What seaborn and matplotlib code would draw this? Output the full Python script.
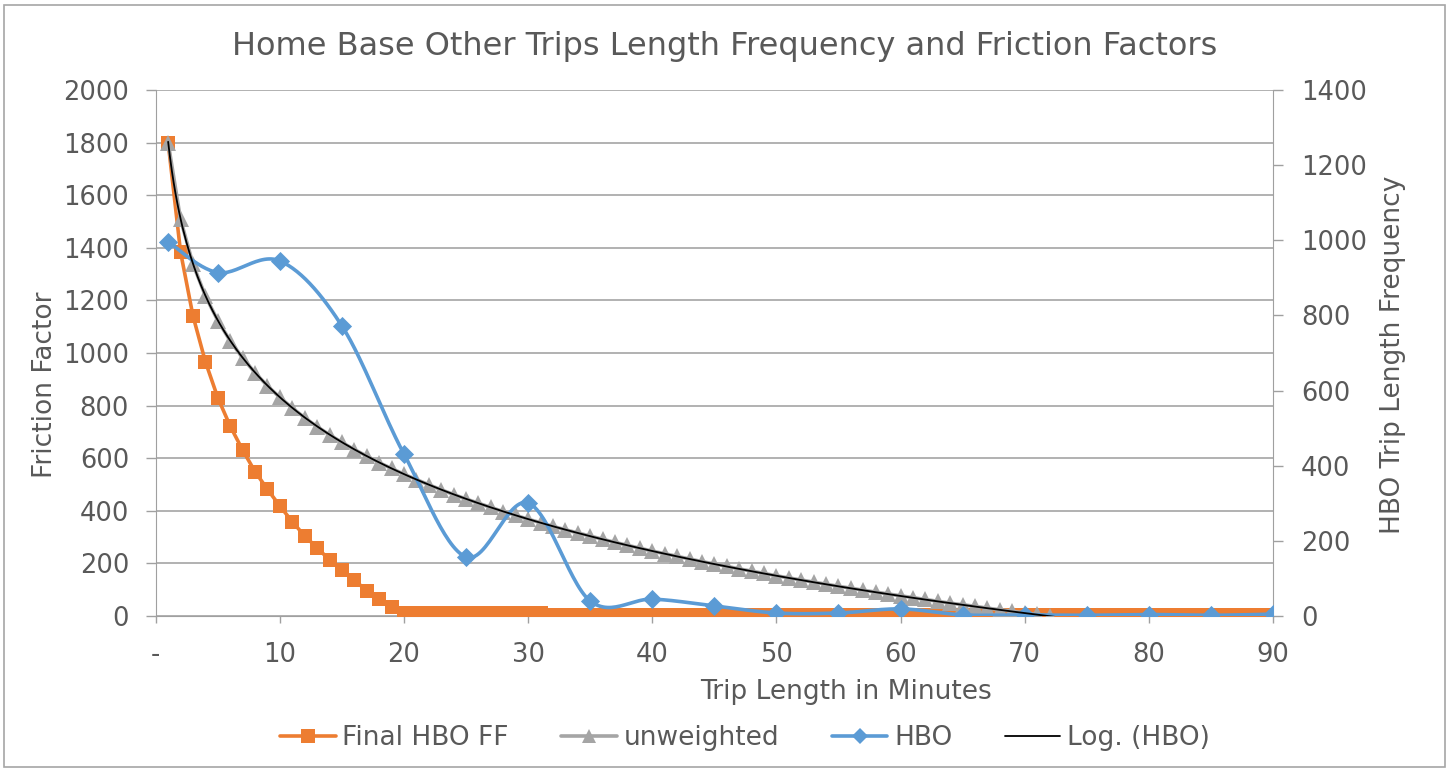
import numpy as np
import matplotlib
matplotlib.use("Agg")
import matplotlib.pyplot as plt
from matplotlib.lines import Line2D
from matplotlib.patches import Rectangle
import seaborn as sns

# ---- data -------------------------------------------------------------
minutes = list(range(1, 91))

# Final HBO friction factors (left axis)
final_hbo_ff = [1800, 1384, 1141, 967, 830, 722, 631, 549, 482, 418,
                359, 304, 260, 213, 175, 137, 96, 63, 35, 12,
                12, 12, 12, 12, 12, 12, 12, 12, 12, 12,
                12, 3, 3, 3, 3, 3, 3, 3, 3, 3,
                3, 3, 3, 3, 3, 3, 3, 3, 3, 3,
                3, 3, 3, 3, 3, 3, 3, 3, 3, 3,
                3, 3, 3, 3, 3, 3, 3, 3, 3, 3,
                3, 3, 3, 3, 3, 3, 3, 3, 3, 3,
                3, 3, 3, 3, 3, 3, 3, 3, 3, 3]

# Unweighted friction factors (left axis), minutes 1..72
unweighted_minutes = list(range(1, 73))
unweighted_ff = [1800, 1508, 1338, 1217, 1123, 1046, 981, 925, 875, 831,
                 791, 754, 720, 689, 660, 633, 608, 583, 561, 539,
                 519, 499, 480, 462, 445, 429, 413, 397, 383, 368,
                 355, 341, 328, 316, 304, 292, 280, 269, 258, 247,
                 237, 227, 217, 207, 198, 189, 179, 171, 162, 153,
                 145, 137, 129, 121, 113, 106, 98, 91, 84, 77,
                 70, 63, 56, 49, 43, 37, 30, 24, 18, 12,
                 6, 0]

# HBO trip length frequency (right axis)
hbo_minutes = [1, 5, 10, 15, 20, 25, 30, 35, 40, 45,
               50, 55, 60, 65, 70, 75, 80, 85, 90]
hbo_freq = [996, 914, 945, 772, 431, 157, 301, 40, 45, 27,
            8, 8, 19, 3, 3, 2, 4, 2, 5]

x_ticks = [0, 10, 20, 30, 40, 50, 60, 70, 80, 90]
x_tick_labels = ["-", "10", "20", "30", "40", "50", "60", "70", "80", "90"]
left_ticks = list(range(0, 2001, 200))
right_ticks = list(range(0, 1401, 200))

# ---- style ------------------------------------------------------------
sns.set_style("white")
plt.rcParams["font.family"] = ["DejaVu Sans"]
TXT = "#595959"
GRID = "#ababab"
AXC = "#a0a0a0"
ORANGE = "#ED7D31"
GRAY = "#A5A5A5"
BLUE = "#5B9BD5"


def smooth_curve(xs, ys, steps=30):
    """Bezier smoothing through every point (Catmull-Rom style)."""
    pts = np.column_stack([xs, ys]).astype(float)
    n = len(pts)
    out = []
    for i in range(n - 1):
        p0 = pts[i - 1] if i > 0 else pts[i]
        p1 = pts[i]
        p2 = pts[i + 1]
        p3 = pts[i + 2] if i + 2 < n else pts[i + 1]
        c1 = p1 + (p2 - p0) / 6.0
        c2 = p2 - (p3 - p1) / 6.0
        t = np.linspace(0, 1, steps)[:, None]
        seg = ((1 - t) ** 3) * p1 + 3 * ((1 - t) ** 2) * t * c1 \
            + 3 * (1 - t) * t ** 2 * c2 + t ** 3 * p2
        out.append(seg if i == 0 else seg[1:])
    out = np.vstack(out)
    return out[:, 0], out[:, 1]


fig = plt.figure(figsize=(14.5, 7.71), dpi=100)
ax = fig.add_axes([0.1074, 0.201, 0.8779 - 0.1074, 0.8833 - 0.201])
ax2 = ax.twinx()

# primary-axis series
sns.lineplot(x=minutes, y=final_hbo_ff, ax=ax, color=ORANGE, lw=2.6,
             marker="s", markersize=9.5, markeredgewidth=0, zorder=3)
sns.lineplot(x=unweighted_minutes, y=unweighted_ff, ax=ax, color=GRAY, lw=2.6,
             marker="^", markersize=11, markeredgewidth=0, zorder=4)

# secondary-axis series: smoothed HBO curve with diamond markers
sx, sy = smooth_curve(hbo_minutes, hbo_freq)
sns.lineplot(x=sx, y=sy, ax=ax2, color=BLUE, lw=2.6, sort=False,
             estimator=None, zorder=3)
sns.scatterplot(x=hbo_minutes, y=hbo_freq, ax=ax2, color=BLUE, marker="D",
                s=95, linewidth=0, zorder=4)

# logarithmic trendline fitted to HBO
slope, intercept = np.polyfit(np.log(hbo_minutes), hbo_freq, 1)
tx = np.linspace(1, 90, 600)
ty = intercept + slope * np.log(tx)
sns.lineplot(x=tx, y=ty, ax=ax2, color="black", lw=1.3, zorder=5,
             estimator=None)

# ---- axes -------------------------------------------------------------
ax.set_xlim(0, 90)
ax.set_ylim(0, 2000)
ax2.set_ylim(0, 1400)
ax.set_xticks(x_ticks)
ax.set_xticklabels(x_tick_labels)
ax.set_yticks(left_ticks)
ax2.set_yticks(right_ticks)

ax.grid(axis="y", color=GRID, lw=1.3)
ax.set_axisbelow(True)
for a in (ax, ax2):
    for s in a.spines.values():
        s.set_visible(False)
ax.spines["left"].set_visible(True)
ax.spines["left"].set_color(AXC)
ax.spines["bottom"].set_visible(True)
ax.spines["bottom"].set_color(AXC)
ax2.spines["right"].set_visible(True)
ax2.spines["right"].set_color(AXC)

ax.tick_params(axis="y", direction="out", length=7.2, width=1, color=AXC,
               labelsize=18.5, labelcolor=TXT, pad=12, left=True)
ax.tick_params(axis="x", direction="out", length=5, width=1, color=AXC,
               labelsize=18.5, labelcolor=TXT, pad=14, bottom=True)
ax2.tick_params(axis="y", direction="out", length=7.2, width=1, color=AXC,
                labelsize=18.5, labelcolor=TXT, pad=13, right=True)

ax.set_xlabel("")
ax.set_ylabel("")
ax2.set_ylabel("")
fig.text(846 / 1450, 1 - 692 / 771, "Trip Length in Minutes", ha="center",
         va="center", fontsize=19, color=TXT)
fig.text(45 / 1450, 1 - 385 / 771, "Friction Factor", ha="center",
         va="center", rotation=90, fontsize=19, color=TXT)
fig.text(1393 / 1450, 1 - 355 / 771, "HBO Trip Length Frequency",
         ha="center", va="center", rotation=90, fontsize=19, color=TXT)
fig.text(725 / 1450, 1 - 46 / 771,
         "Home Base Other Trips Length Frequency and Friction Factors",
         ha="center", va="center", fontsize=23, color=TXT)

# ---- legend -----------------------------------------------------------
handles = [
    Line2D([], [], color=ORANGE, lw=2.6, marker="s", markersize=9.5,
           markeredgewidth=0),
    Line2D([], [], color=GRAY, lw=2.6, marker="^", markersize=10,
           markeredgewidth=0),
    Line2D([], [], color=BLUE, lw=2.6, marker="D", markersize=8,
           markeredgewidth=0),
    Line2D([], [], color="black", lw=1.3),
]
labels = ["Final HBO FF", "unweighted", "HBO", "Log. (HBO)"]
leg = fig.legend(handles, labels, loc="center", ncol=4,
                 bbox_to_anchor=(745 / 1450, 1 - 738 / 771), frameon=False,
                 fontsize=19, handlelength=2.1, handletextpad=0.25,
                 columnspacing=2.0)
for t in leg.get_texts():
    t.set_color(TXT)

# chart border
fig.add_artist(Rectangle((4 / 1450, 4 / 771), 1 - 9 / 1450, 1 - 9 / 771,
                         transform=fig.transFigure, fill=False,
                         edgecolor="#a6a6a6", lw=1.2))

fig.savefig("out.png", dpi=100)
